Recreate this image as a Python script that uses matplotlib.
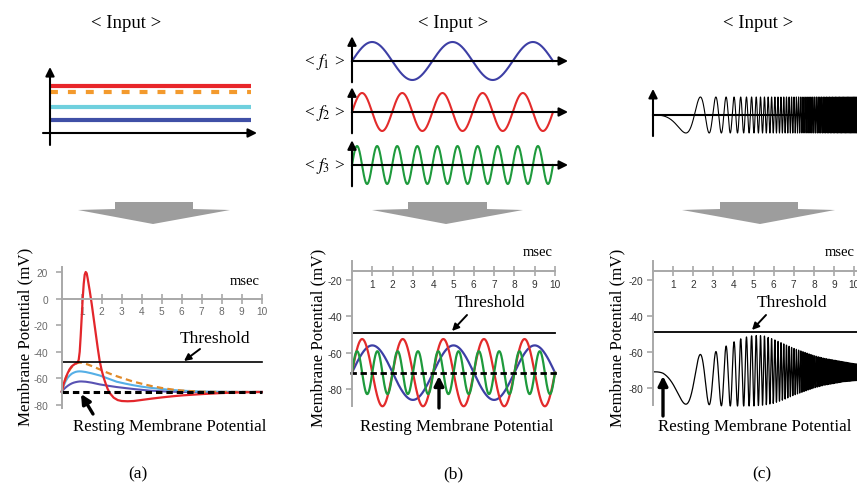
import numpy as np
import matplotlib
matplotlib.use('Agg')
import matplotlib.pyplot as plt
from matplotlib.patches import Polygon

W, H = 857, 485
plt.rcParams['font.family'] = ['Liberation Serif', 'DejaVu Serif']
plt.rcParams['mathtext.fontset'] = 'stix'
plt.rcParams['axes.unicode_minus'] = False

# ---------------- data ----------------
# (a) input: constant current steps (arbitrary units)
step_levels = [4.7, 4.1, 2.6, 1.3]
step_colors = ['#e8262a', '#f39a2d', '#6fd0de', '#3f4fa6']
step_dashed = [False, True, False, False]

# (a) output membrane potential (ms, mV)
t_red = [0, 0.1, 0.2, 0.3, 0.4, 0.5, 0.6, 0.7, 0.8, 0.85, 0.9, 0.95, 1.0, 1.05, 1.1, 1.15, 1.2,
         1.25, 1.3, 1.4, 1.5, 1.6, 1.7, 1.8, 1.9, 2.0, 2.1, 2.2, 2.3, 2.4, 2.6, 2.8, 3.0, 3.3,
         3.6, 4.0, 4.5, 5.0, 5.5, 6.0, 7.0, 8.0, 9.0, 10.0]
v_red = [-70, -64, -59.5, -56, -53, -51, -49.8, -48.8, -48, -46, -40, -28, -14, 0, 11, 18, 20,
         19, 15, 6, -4, -15, -26, -37, -47, -54, -59.5, -64, -68, -71, -74.5, -76.3, -77, -77.2,
         -77, -76.2, -75.2, -74.3, -73.5, -72.8, -71.8, -71, -70.5, -70.2]
t_orange = [0, 0.1, 0.2, 0.3, 0.4, 0.5, 0.6, 0.7, 0.8, 0.9, 1.0, 1.3, 1.6, 1.9, 2.2, 2.5, 2.8,
            3.2, 3.6, 4.0, 4.5, 5.0, 5.5, 6.0, 6.5, 7.0, 8.0, 9.0, 10.0]
v_orange = [-70, -64.5, -60, -56.5, -53.5, -51.5, -50, -49, -48.4, -48.1, -48.2, -49.5, -51.3,
            -53.2, -55.2, -57, -58.6, -60.6, -62.5, -64, -65.8, -67.2, -68.3, -69.1, -69.6, -70,
            -70.2, -70.2, -70.2]
t_sub = [0, 0.1, 0.2, 0.3, 0.4, 0.5, 0.6, 0.7, 0.8, 0.9, 1.0, 1.2, 1.5, 1.9, 2.3, 2.75, 3.2,
         3.6, 4.0, 4.4, 5.0, 5.5, 6.0, 6.5, 7.0, 8.0, 9.0, 10.0]
v_cyan = [-70, -65.5, -62, -59.5, -57.8, -56.5, -55.7, -55.1, -54.8, -54.7, -54.8, -55.2, -56.2,
          -57.8, -60, -62.5, -64, -65.2, -66.2, -67, -68, -68.7, -69.2, -69.6, -69.9, -70.1,
          -70.2, -70.2]
v_blue = [-70, -68.2, -66.8, -65.6, -64.6, -63.8, -63.2, -62.8, -62.5, -62.3, -62.3, -62.5,
          -63.2, -64.5, -65.5, -66.5, -67.3, -68, -68.6, -69.2, -69.7, -70, -70.2, -70.2, -70.2,
          -70.2, -70.2, -70.2]
threshold_a = -48
rest_a = -70

# (b) sinusoidal inputs f1, f2, f3
sine_freqs = [0.25, 0.5, 1.0]      # cycles per ms
sine_amps = [15.0, 18.5, 11.8]     # mV response amplitude
sine_colors = ['#3d3fa5', '#e32b2b', '#1e9a3c']
sine_labels = ['< $f_1$ >', '< $f_2$ >', '< $f_3$ >']
rest_b = -71
threshold_b = -49

# (c) chirp input, phase = k * t^3
chirp_k = 0.36
env_t = [0, 0.5, 1.0, 1.5, 2.0, 2.5, 3.0, 3.5, 4.0, 4.5, 5.0, 5.5, 6.0, 6.5, 7.0, 7.5, 8.0,
         8.5, 9.0, 9.5, 10.0, 10.5]
env_upper = [-53, -53, -55, -58, -61, -61.5, -60.5, -57.5, -54.5, -52, -50.8, -51, -53, -55.5,
             -58, -60, -62, -63.5, -64.5, -65.5, -66.5, -67]
env_lower = [-89, -89, -89, -89, -89, -89, -89.5, -90, -90, -90, -90, -89.5, -88.5, -86.5,
             -84, -82, -80, -78.5, -77.5, -76.5, -76, -75.5]
rest_c = -71
threshold_c = -49

xticks = list(range(1, 11))
yticks_a = [20, 0, -20, -40, -60, -80]
yticks_bc = [-20, -40, -60, -80]

# ---------------- figure ----------------
fig = plt.figure(figsize=(W / 100, H / 100), dpi=100)


def px_axes(xd, xp, yd, yp, xlim, ylim):
    sx = (xp[1] - xp[0]) / (xd[1] - xd[0])
    sy = (yp[1] - yp[0]) / (yd[1] - yd[0])
    left = xp[0] + (xlim[0] - xd[0]) * sx
    right = xp[0] + (xlim[1] - xd[0]) * sx
    top = yp[0] + (ylim[1] - yd[0]) * sy
    bot = yp[0] + (ylim[0] - yd[0]) * sy
    ax = fig.add_axes([left / W, 1 - bot / H, (right - left) / W, (bot - top) / H])
    ax.set_xlim(xlim)
    ax.set_ylim(ylim)
    ax.patch.set_alpha(0)
    return ax


def arrow(ax, tail, tip, lw=1.5, ms=14):
    ax.annotate('', xy=tip, xytext=tail,
                arrowprops=dict(arrowstyle='-|>', color='k', lw=lw, mutation_scale=ms,
                                shrinkA=0, shrinkB=0), annotation_clip=False)


def style_out(ax, yspine_bounds, xaxis_y, xbounds, yticks, gray_labels):
    for s in ['top', 'right']:
        ax.spines[s].set_visible(False)
    ax.spines['left'].set_position(('data', 0))
    ax.spines['left'].set_bounds(*yspine_bounds)
    ax.spines['bottom'].set_position(('data', xaxis_y))
    ax.spines['bottom'].set_bounds(*xbounds)
    for s in ['left', 'bottom']:
        ax.spines[s].set_color('#a8a8a8')
        ax.spines[s].set_linewidth(1.4)
    ax.set_xticks(xticks)
    ax.set_yticks(yticks)
    lc = '#6a6a6a' if gray_labels else '#333333'
    ax.tick_params(axis='x', direction='inout', length=7, width=1.2, color='#a8a8a8',
                   labelsize=7.3, labelcolor=lc, pad=2)
    ax.tick_params(axis='y', direction='out', length=4, width=1.2, color='#a8a8a8',
                   labelsize=7.3, labelcolor=lc, pad=6 if gray_labels else 3)
    for lab in ax.get_xticklabels() + ax.get_yticklabels():
        lab.set_family(['Liberation Sans', 'DejaVu Sans'])


# ---- top (a): step inputs
axA = px_axes((0, 10), (50, 251), (0, 1), (134, 124), (-1, 11), (-2, 8))
axA.axis('off')
for lev, col, dsh in zip(step_levels, step_colors, step_dashed):
    if dsh:
        axA.plot([0, 10], [lev, lev], color=col, lw=3, ls=(0, (1.9, 2.4)), solid_capstyle='butt')
    else:
        axA.plot([0, 10], [lev, lev], color=col, lw=3, solid_capstyle='butt')
arrow(axA, (0, -1.2), (0, 6.6), lw=1.5, ms=13)
arrow(axA, (-0.35, 0), (10.3, 0), lw=1.5, ms=13)

# ---- top (b): sine inputs
for i, yc in enumerate([62, 113, 166]):
    axs = px_axes((0, 10), (352, 553), (0, 1), (yc, yc - 19), (-1, 11.5), (-1.6, 1.6))
    axs.axis('off')
    tt = np.linspace(0, 10, 800)
    axs.plot(tt, np.sin(2 * np.pi * sine_freqs[i] * tt), color=sine_colors[i], lw=1.5)
    arrow(axs, (0, -1.12), (0, 1.3), lw=1.5, ms=13)
    arrow(axs, (0, 0), (10.75, 0), lw=1.5, ms=13)

# ---- top (c): chirp input
axC = px_axes((0, 9), (653, 834), (0, 1), (116, 98), (-1, 10.6), (-1.6, 1.8))
axC.axis('off')
tc = np.linspace(0, 10.6, 40000)
axC.plot(tc, -np.sin(chirp_k * tc ** 3), color='k', lw=0.8)
arrow(axC, (0, -1.17), (0, 1.45), lw=1.5, ms=13)
axC.plot([0, 10.6], [0, 0], color='k', lw=1.5)

# ---- bottom (a)
ba = px_axes((0, 10), (61.7, 261.7), (20, -80), (273, 406), (-0.5, 10.5), (-86, 30))
style_out(ba, (-82, 24), 0, (0, 10), yticks_a, True)
ba.plot(t_sub, v_blue, color='#5852b3', lw=1.5)
ba.plot(t_sub, v_cyan, color='#55afe6', lw=1.5)
ba.plot(t_orange, v_orange, color='#e08a2a', lw=1.6, ls=(0, (2.9, 1.9)))
ba.plot(t_red, v_red, color='#e3262b', lw=1.6)
ba.plot([0, 10], [threshold_a, threshold_a], color='k', lw=1.2)
ba.plot([0, 10], [rest_a, rest_a], color='k', lw=2.2, ls=(0, (2.1, 1.3)))

# ---- bottom (b)
bb = px_axes((0, 10), (352, 555), (-20, -80), (281, 390), (-0.5, 10.5), (-92, -5))
style_out(bb, (-89.5, -9.5), -15, (0, 10), yticks_bc, False)
tb = np.linspace(0, 10, 1000)
for f, a, c in zip(sine_freqs, sine_amps, sine_colors):
    bb.plot(tb, rest_b + a * np.sin(2 * np.pi * f * tb), color=c, lw=1.6)
bb.plot([0, 10], [threshold_b, threshold_b], color='k', lw=1.3)
bb.plot([-0.1, 10.1], [rest_b, rest_b], color='k', lw=2.0, ls=(0, (2.3, 1.3)))

# ---- bottom (c)
bc = px_axes((0, 9), (653, 834), (-20, -80), (281, 389), (-0.5, 10.6), (-92, -5))
style_out(bc, (-89.5, -9.5), -15, (0, 10.6), yticks_bc, False)
tco = np.linspace(0, 10.6, 40000)
up = np.interp(tco, env_t, env_upper)
lo = np.interp(tco, env_t, env_lower)
bc.plot(tco, (up + lo) / 2 + (up - lo) / 2 * (-np.sin(chirp_k * tco ** 3)), color='k', lw=0.9)
bc.plot([0, 10.6], [threshold_c, threshold_c], color='k', lw=1.3)

# ---------------- decorations (pixel coordinates) ----------------
deco = fig.add_axes([0, 0, 1, 1])
deco.set_xlim(0, W)
deco.set_ylim(H, 0)
deco.axis('off')
deco.patch.set_alpha(0)

for (r0, r1, b0, b1, apex) in [(115, 193, 78, 230, 153), (408, 487, 372, 523, 446),
                               (720, 798, 682, 835, 760)]:
    deco.add_patch(Polygon([(r0, 203), (r1, 203), (r1, 210), (b1, 211), (apex, 225),
                            (b0, 211), (r0, 210)], closed=True, fc='#9d9d9d', ec='none'))

fs = 12.2
for xc in [126, 453, 758]:
    deco.text(xc, 23, '< Input >', ha='center', va='center', fontsize=13.5)
for i, yc in enumerate([62, 113, 166]):
    deco.text(325, yc, sine_labels[i], ha='center', va='center', fontsize=12.5)

# panel labels and annotations
deco.text(25, 337, 'Membrane Potential (mV)', rotation=90, ha='center', va='center', fontsize=fs)
deco.text(318, 338, 'Membrane Potential (mV)', rotation=90, ha='center', va='center', fontsize=fs)
deco.text(617, 338, 'Membrane Potential (mV)', rotation=90, ha='center', va='center', fontsize=fs)

deco.text(245, 282, 'msec', ha='center', va='center', fontsize=10.5)
deco.text(538, 253, 'msec', ha='center', va='center', fontsize=10.5)
deco.text(840, 253, 'msec', ha='center', va='center', fontsize=10.5)

deco.text(215, 339, 'Threshold', ha='center', va='center', fontsize=12.5)
deco.text(490, 303, 'Threshold', ha='center', va='center', fontsize=12.5)
deco.text(792, 303, 'Threshold', ha='center', va='center', fontsize=12.5)
arrow(deco, (200, 350), (184, 362), lw=1.4, ms=10)
arrow(deco, (467, 316), (452, 332), lw=1.4, ms=10)
arrow(deco, (766, 316), (752, 331), lw=1.4, ms=10)

deco.text(170, 427, 'Resting Membrane Potential', ha='center', va='center', fontsize=fs)
deco.text(457, 427, 'Resting Membrane Potential', ha='center', va='center', fontsize=fs)
deco.text(658, 427, 'Resting Membrane Potential', ha='left', va='center', fontsize=fs)
arrow(deco, (93, 415), (81, 395), lw=2.4, ms=14)
arrow(deco, (439, 409), (439, 377), lw=2.4, ms=14)
arrow(deco, (663, 417), (663, 377), lw=2.4, ms=14)

deco.text(138, 474, '(a)', ha='center', va='center', fontsize=12.5)
deco.text(453, 474, '(b)', ha='center', va='center', fontsize=12.5)
deco.text(762, 474, '(c)', ha='center', va='center', fontsize=12.5)

fig.savefig('out.png', dpi=100)
